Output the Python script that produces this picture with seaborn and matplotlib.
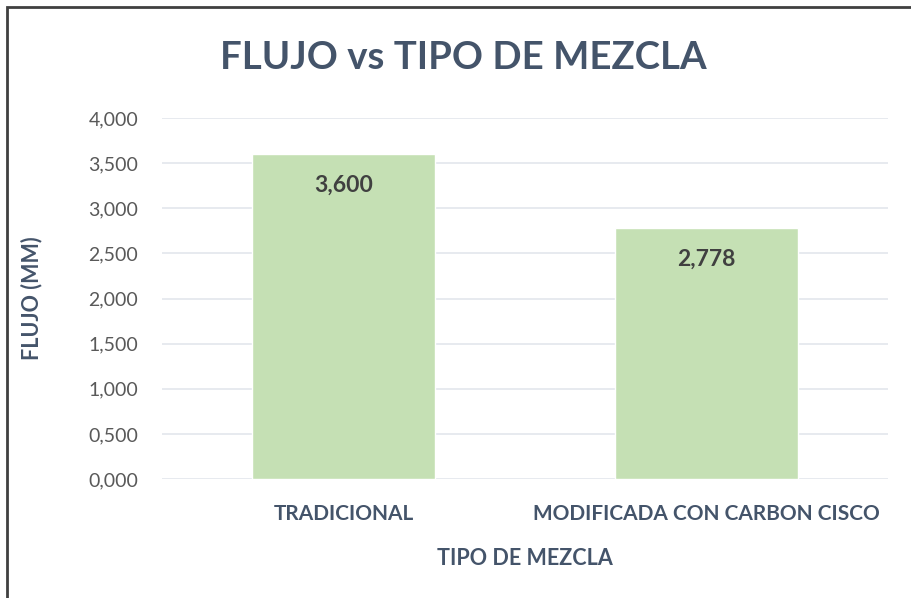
import matplotlib
matplotlib.use("Agg")
import matplotlib.pyplot as plt
import seaborn as sns
import pandas as pd
from matplotlib.ticker import FuncFormatter
from matplotlib.patches import Rectangle

categorias = ["TRADICIONAL", "MODIFICADA CON CARBON CISCO"]
flujo = [3.600, 2.778]
etiquetas = ["3,600", "2,778"]

sns.set_theme(style="white")
plt.rcParams['font.family'] = ['Lato', 'DejaVu Sans']

df = pd.DataFrame({"tipo": categorias, "flujo": flujo})

fig = plt.figure(figsize=(9.11, 5.98), dpi=100)
ax = fig.add_axes([162/911, 1-479/598, (888-162)/911, (479-118)/598])

sns.barplot(data=df, x="tipo", y="flujo", color="#C5E0B4", width=0.505,
            saturation=1, ax=ax, zorder=3)

ax.set_ylim(0, 4.0)
ax.set_xlim(-0.5, 1.5)
ax.set_yticks([0, 0.5, 1.0, 1.5, 2.0, 2.5, 3.0, 3.5, 4.0])
ax.yaxis.set_major_formatter(FuncFormatter(lambda v, p: f"{v:.3f}".replace(".", ",")))
ax.grid(axis="y", color="#E3E6EC", linewidth=1.2, zorder=0)
ax.set_axisbelow(True)
for s in ax.spines.values():
    s.set_visible(False)
ax.tick_params(axis="both", length=0)
ax.tick_params(axis="y", labelsize=14, labelcolor="#595959", pad=17)
ax.tick_params(axis="x", labelsize=15, labelcolor="#44546A", pad=18)
for t in ax.get_xticklabels():
    t.set_fontweight("bold")

ax.set_xlabel("TIPO DE MEZCLA", fontsize=15.5, fontweight="bold", color="#44546A", labelpad=17)
ax.set_ylabel("FLUJO (MM)", fontsize=15.5, fontweight="bold", color="#44546A", labelpad=33)

for patch, lab in zip(ax.patches, etiquetas):
    cx = patch.get_x() + patch.get_width() / 2
    ax.annotate(lab, (cx, patch.get_height()), xytext=(0, -31), textcoords="offset pixels",
                ha="center", va="center", fontsize=16.5, fontweight="bold", color="#404040")

fig.text(463/911, 1-58/598, "FLUJO vs TIPO DE MEZCLA", ha="center", va="center",
         fontsize=27.6, fontweight="bold", color="#44546A")

fig.patches.append(Rectangle((7/911, -0.1), 1.2, 1 - 7/598 + 0.1, transform=fig.transFigure,
                             fill=False, edgecolor="#404040", linewidth=2, zorder=10))

fig.savefig("out.png", dpi=100, facecolor="white")
